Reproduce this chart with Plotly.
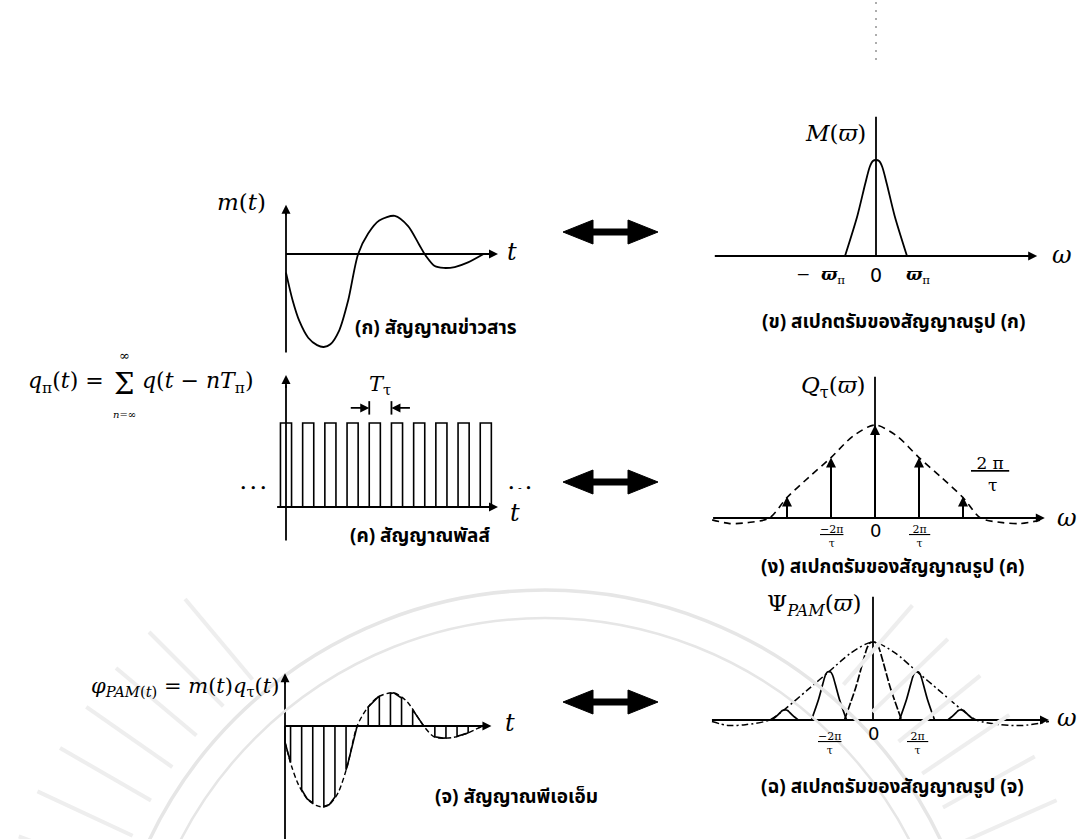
import numpy as np
import plotly.graph_objects as go

W, H = 1084, 839

# message signal m(t); t measured in pulse periods T
t_msg = [0, 0.3, 0.6, 1.0, 1.4, 1.7, 2.0, 2.4, 2.8, 3.25, 3.7, 4.2, 4.9, 5.5, 6.0, 6.3, 6.7, 7.1, 7.6, 8.2, 8.9]
m_msg = [-0.20, -0.50, -0.72, -0.90, -0.98, -1.0, -0.97, -0.82, -0.50, 0.0, 0.22, 0.36, 0.41, 0.30, 0.10,
         -0.02, -0.13, -0.15, -0.14, -0.09, 0.0]

# baseband spectrum M(w); w measured in units of w_m
w_msg = [-1.0, -0.6, -0.35, -0.2, -0.1, 0.0, 0.1, 0.2, 0.35, 0.6, 1.0]
M_msg = [0.0, 0.42, 0.75, 0.93, 0.99, 1.0, 0.99, 0.93, 0.75, 0.42, 0.0]

# rectangular pulse train q(t)
pulse_n = list(range(10))
pulse_width = 0.5
pulse_height = 1.0

# spectrum of the pulse train: impulses at k*2pi/tau under a sinc envelope
k_lines = [-2, -1, 0, 1, 2]
Q_lines = [0.23, 0.65, 1.0, 0.65, 0.23]
w_env = [-3.7, -3.3, -2.9, -2.4, -2.0, -1.5, -1.0, -0.5, 0.0, 0.5, 1.0, 1.5, 2.0, 2.4, 2.9, 3.3, 3.8]
Q_env = [-0.02, -0.06, -0.05, 0.0, 0.22, 0.44, 0.65, 0.88, 1.0, 0.88, 0.65, 0.44, 0.22, 0.0, -0.05, -0.06, -0.02]

# spectrum of the PAM signal: copies of M(w) at k*2pi/tau
psi_heights = [0.13, 0.62, 1.0, 0.62, 0.13]
psi_halfwidth = [0.3, 0.4, 0.65, 0.4, 0.3]
w_env2 = [-3.66, -3.3, -2.9, -2.35, -2.0, -1.5, -1.0, -0.5, 0.0, 0.5, 1.0, 1.5, 2.0, 2.35, 2.9, 3.4, 4.0]
Psi_env = [-0.02, -0.07, -0.06, 0.0, 0.14, 0.38, 0.62, 0.86, 1.0, 0.86, 0.62, 0.38, 0.14, 0.0, -0.06, -0.07, -0.02]

captions = {
    "A": "(ก) สัญญาณข่าวสาร",
    "B": "(ข) สเปกตรัมของสัญญาณรูป (ก)",
    "C": "(ค) สัญญาณพัลส์",
    "D": "(ง) สเปกตรัมของสัญญาณรูป (ค)",
    "E": "(จ) สัญญาณพีเอเอ็ม",
    "F": "(ฉ) สเปกตรัมของสัญญาณรูป (จ)",
}

# each panel: origin in page pixels and pixels per data unit
panels = {
    "A": dict(n=1, x0=286, y0=254, sx=22.2, sy=93),
    "B": dict(n=2, x0=876, y0=256, sx=31, sy=96),
    "C": dict(n=3, x0=286, y0=507, sx=22.2, sy=84),
    "D": dict(n=4, x0=875, y0=518, sx=44, sy=93),
    "E": dict(n=5, x0=285, y0=726, sx=22.2, sy=81),
    "F": dict(n=6, x0=873, y0=720, sx=44, sy=78),
    "P": dict(n=7, x0=0, y0=0, sx=1, sy=-1),
}

MATH = "DejaVu Serif, serif"
THAI = "Noto Sans Thai, Loma, Garuda, Tlwg Typo, Norasi, DejaVu Sans, sans-serif"
AXW = 1.8

fig = go.Figure()
annotations = []
shapes = []


def refs(p):
    n = panels[p]["n"]
    k = "" if n == 1 else str(n)
    return "x" + k, "y" + k


def line(p, xs, ys, width=1.6, dash=None, shape="linear", color="black", fill=None):
    xr, yr = refs(p)
    fig.add_trace(go.Scatter(
        x=xs, y=ys, mode="lines", xaxis=xr, yaxis=yr, hoverinfo="skip", showlegend=False,
        line=dict(color=color, width=width, dash=dash, shape=shape, smoothing=0.8 if shape == "spline" else None),
        fill=fill, fillcolor=color if fill else None,
    ))


def arrow(p, x0, y0, x1, y1, width=AXW, size=1.0, head=2):
    xr, yr = refs(p)
    annotations.append(dict(
        x=x1, y=y1, ax=x0, ay=y0, xref=xr, yref=yr, axref=xr, ayref=yr, text="",
        showarrow=True, arrowhead=head, arrowsize=size, arrowwidth=width, arrowcolor="black",
        standoff=0, startstandoff=0,
    ))


def text(p, x, y, s, size=18, family=MATH, xanchor="center", yanchor="middle", color="black"):
    xr, yr = refs(p)
    annotations.append(dict(
        x=x, y=y, xref=xr, yref=yr, text=s, showarrow=False, xanchor=xanchor, yanchor=yanchor,
        font=dict(family=family, size=size, color=color),
    ))


# ---- faint seal in the background ----
seal_cx, seal_cy = 545, 1028
for r, wdt in [(438, 3.5), (410, 2.5)]:
    shapes.append(dict(type="circle", xref="x7", yref="y7", x0=seal_cx - r, x1=seal_cx + r,
                       y0=seal_cy - r, y1=seal_cy + r, line=dict(color="#e6e6e6", width=wdt), layer="below"))
ray_x, ray_y = [], []
for ang in list(range(14, 52, 5)) + list(range(130, 168, 5)):
    a = np.radians(ang)
    ray_x += [seal_cx + 455 * np.cos(a), seal_cx + 560 * np.cos(a), None]
    ray_y += [seal_cy - 455 * np.sin(a), seal_cy - 560 * np.sin(a), None]
line("P", ray_x, ray_y, width=4, color="#eeeeee")

# ---- (A) message signal ----
line("A", [0, 0], [-1.06, 0.5], width=AXW)
arrow("A", 0, 0.4, 0, 0.53)
line("A", [0, 9.4], [0, 0], width=AXW)
arrow("A", 9.2, 0, 9.55, 0)
line("A", t_msg, m_msg, width=1.8, shape="spline")

# ---- (B) baseband spectrum ----
line("B", [-5.2, 5.0], [0, 0], width=AXW)
arrow("B", 4.8, 0, 5.2, 0)
line("B", [0, 0], [0, 1.45], width=AXW)
line("B", w_msg, M_msg, width=1.8, shape="spline")
text("B", 0, -0.2, "0", size=19, family="DejaVu Sans, sans-serif")
text("B", -0.95, -0.2, "−  <b><i>ϖ</i></b><sub>π</sub>", size=17, xanchor="right")
text("B", 0.9, -0.2, "<b><i>ϖ</i></b><sub>π</sub>", size=17, xanchor="left")

# ---- (C) pulse train ----
line("C", [0, 0], [-0.4, 1.45], width=AXW)
arrow("C", 0, 1.4, 0, 1.57)
line("C", [-0.4, 9.3], [0, 0], width=AXW)
arrow("C", 9.1, 0, 9.55, 0)
px_, py_ = [], []
for n in pulse_n:
    a, b = n - pulse_width / 2, n + pulse_width / 2
    px_ += [a, a, b, b, None]
    py_ += [0, pulse_height, pulse_height, 0, None]
line("C", px_, py_, width=1.6)
# period marker T
T_left = pulse_n[4] - pulse_width / 2
T_right = pulse_n[5] - pulse_width / 2
line("C", [T_left, T_left, None, T_right, T_right], [1.1, 1.26, None, 1.1, 1.26], width=1.8)
arrow("C", T_left - 0.9, 1.18, T_left, 1.18, width=1.8, size=1.0)
arrow("C", T_right + 0.9, 1.18, T_right, 1.18, width=1.8, size=1.0)

# ---- (D) pulse-train spectrum ----
line("D", [-3.68, 3.6], [0, 0], width=AXW)
arrow("D", 3.5, 0, 3.86, 0)
line("D", [0, 0], [0, 1.52], width=AXW)
line("D", w_env, Q_env, width=1.6, dash="7px,5px", shape="spline")
for k, q in zip(k_lines, Q_lines):
    line("D", [k, k], [0, q - 0.05], width=2)
    arrow("D", k, q - 0.12, k, q, width=2, size=1.0)
text("D", 0, -0.13, "0", size=18, family="DejaVu Sans, sans-serif")
text("D", -1, -0.2, "<u>−2π</u><br>τ", size=11)
text("D", 1, -0.2, "<u> 2π </u><br>τ", size=11)

# ---- (E) PAM signal ----
line("E", [0, 0], [-1.4, 0.55], width=AXW)
arrow("E", 0, 0.5, 0, 0.65)
line("E", [0, 9.0], [0, 0], width=AXW)
arrow("E", 8.8, 0, 9.3, 0)
line("E", t_msg, m_msg, width=1.4, dash="5px,3px", shape="spline")
ex, ey = [], []
for n in pulse_n:
    a = max(n - pulse_width / 2, 0.0)
    b = min(n + pulse_width / 2, t_msg[-1])
    if a >= b:
        continue
    ts = [a] + [t for t in t_msg if a < t < b] + [b]
    ms = np.interp(ts, t_msg, m_msg).tolist()
    ex += [a] + ts + [b, None]
    ey += [0] + ms + [0, None]
line("E", ex, ey, width=1.6)

# ---- (F) PAM spectrum ----
line("F", [-3.66, 3.7], [0, 0], width=AXW)
arrow("F", 3.6, 0, 4.0, 0)
line("F", [0, 0], [0, 1.58], width=AXW)
line("F", w_env2, Psi_env, width=1.5, dash="7px,3px,2px,3px", shape="spline")
for k, h, hw in zip(k_lines, psi_heights, psi_halfwidth):
    xs = [k + w * hw for w in w_msg]
    ys = [v * h for v in M_msg]
    line("F", xs, ys, width=1.7, dash="8px,2px" if k == 0 else None, shape="spline")
text("F", 0, -0.17, "0", size=18, family="DejaVu Sans, sans-serif")
text("F", -1, -0.3, "<u>−2π</u><br>τ", size=11)
text("F", 1, -0.3, "<u> 2π </u><br>τ", size=11)

# ---- double arrows between signals and spectra ----
for cy in [232, 482, 702]:
    cx = 610.5
    xs = [cx - 47.5, cx - 17.5, cx - 17.5, cx + 17.5, cx + 17.5, cx + 47.5, cx + 17.5, cx + 17.5, cx - 17.5,
          cx - 17.5, cx - 47.5]
    ys = [cy, cy - 12, cy - 3, cy - 3, cy - 12, cy, cy + 12, cy + 3, cy + 3, cy + 12, cy]
    line("P", xs, ys, width=1, fill="toself")

# faint dotted scan line above M(w)
line("P", [876, 876], [2, 62], width=1.2, dash="2px,6px", color="#777777")

# ---- labels ----
text("P", 268, 202, "<i>m</i>(<i>t</i>)", size=23, xanchor="right")
text("P", 512, 252, "<i>t</i>", size=24)
text("P", 868, 133, "<i>M</i>(<i>ϖ</i>)", size=23, xanchor="right")
text("P", 1062, 255, "<i>ω</i>", size=24)

text("P", 106, 382, "<i>q</i><sub>π</sub>(<i>t</i>) =", size=22, xanchor="right")
text("P", 124, 384, "Σ", size=29)
text("P", 124, 355, "∞", size=13)
text("P", 124, 414, "<i>n</i>=∞", size=10)
text("P", 140, 382, "<i>q</i>(<i>t</i> − <i>nT</i><sub>π</sub>)", size=22, xanchor="left")
text("P", 380, 385, "<i>T</i><sub>τ</sub>", size=21)
text("P", 253, 488, "• • •", size=11)
text("P", 520, 488, "• - •", size=11)
text("P", 515, 513, "<i>t</i>", size=24)
text("P", 868, 387, "<i>Q</i><sub>τ</sub>(<i>ϖ</i>)", size=23, xanchor="right")
text("P", 1067, 518, "<i>ω</i>", size=24)
text("P", 990, 474, "<u> 2 π </u><br> τ", size=17)

text("P", 281, 687, "<i>φ</i><sub><i>PAM</i>(<i>t</i>)</sub> = <i>m</i>(<i>t</i>)<i>q</i><sub>τ</sub>(<i>t</i>)",
     size=21, xanchor="right")
text("P", 510, 723, "<i>t</i>", size=24)
text("P", 863, 605, "Ψ<sub><i>PAM</i></sub>(<i>ϖ</i>)", size=23, xanchor="right")
text("P", 1067, 718, "<i>ω</i>", size=24)

CAP = 19
text("P", 353, 328, "<b>" + captions["A"] + "</b>", size=CAP, family=THAI, xanchor="left")
text("P", 893, 322, "<b>" + captions["B"] + "</b>", size=CAP, family=THAI)
text("P", 348, 536, "<b>" + captions["C"] + "</b>", size=CAP, family=THAI, xanchor="left")
text("P", 892, 567, "<b>" + captions["D"] + "</b>", size=CAP, family=THAI)
text("P", 433, 797, "<b>" + captions["E"] + "</b>", size=CAP, family=THAI, xanchor="left")
text("P", 892, 787, "<b>" + captions["F"] + "</b>", size=CAP, family=THAI)

# ---- axes: every panel spans the whole page, placed through its range ----
layout_axes = {}
for p, d in panels.items():
    n = d["n"]
    k = "" if n == 1 else str(n)
    xr = [-d["x0"] / d["sx"], (W - d["x0"]) / d["sx"]]
    yr = [(d["y0"] - H) / d["sy"], d["y0"] / d["sy"]]
    layout_axes["xaxis" + k] = dict(domain=[0, 1], range=xr, visible=False, anchor="y" + k, fixedrange=True)
    layout_axes["yaxis" + k] = dict(domain=[0, 1], range=yr, visible=False, anchor="x" + k, fixedrange=True)

fig.update_layout(
    width=W, height=H, margin=dict(l=0, r=0, t=0, b=0),
    paper_bgcolor="white", plot_bgcolor="rgba(0,0,0,0)",
    showlegend=False, annotations=annotations, shapes=shapes,
    **layout_axes,
)

fig.write_html("out.html", config={"displayModeBar": False})
